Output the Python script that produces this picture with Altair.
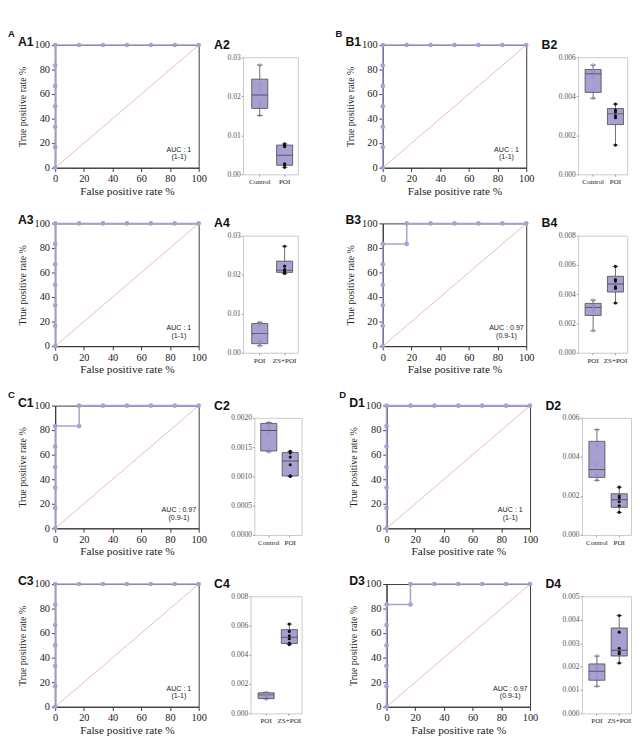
import altair as alt
import numpy as np
import pandas as pd

# ---------------- ROC curves (percent) ----------------
roc_full_fpr = [0, 0, 0, 0, 0, 0, 0, 16.67, 33.33, 50, 66.67, 83.33, 100]
roc_full_tpr = [0, 16.67, 33.33, 50, 66.67, 83.33, 100, 100, 100, 100, 100, 100, 100]
roc_097_fpr = [0, 0, 0, 0, 0, 0, 16.67, 16.67, 33.33, 50, 66.67, 83.33, 100]
roc_097_tpr = [0, 16.67, 33.33, 50, 66.67, 83.33, 83.33, 100, 100, 100, 100, 100, 100]
diag_vals = [0, 100]
roc_ticks = [0, 20, 40, 60, 80, 100]

roc_labels = ["A1", "A3", "B1", "B3", "C1", "C3", "D1", "D3"]
roc_kind = ["full", "full", "full", "097", "097", "full", "full", "097"]
auc_main = ["AUC : 1", "AUC : 1", "AUC : 1", "AUC : 0.97", "AUC : 0.97", "AUC : 1", "AUC : 1", "AUC : 0.97"]
auc_ci = ["(1-1)", "(1-1)", "(1-1)", "(0.9-1)", "(0.9-1)", "(1-1)", "(1-1)", "(0.9-1)"]

# ---------------- box plot values ----------------
A_control = [0.0151, 0.0175, 0.0185, 0.0222, 0.0232, 0.0280]
A_poi = [0.0018, 0.0025, 0.0027, 0.0071, 0.0074, 0.0078]
A_zs = [0.0203, 0.0207, 0.0210, 0.0213, 0.0222, 0.0273]
B_control = [0.0039, 0.0043, 0.0050, 0.0053, 0.0053, 0.0056]
B_poi = [0.0015, 0.0029, 0.0030, 0.0032, 0.0033, 0.0036]
B_zs = [0.0034, 0.0044, 0.0045, 0.0049, 0.0050, 0.0059]
C_control = [0.00142, 0.00144, 0.00173, 0.00184, 0.00190, 0.00192]
C_poi = [0.00100, 0.00101, 0.00120, 0.00133, 0.00140, 0.00143]
C_zs = [0.0047, 0.0048, 0.0051, 0.0053, 0.0056, 0.0061]
D_control = [0.0028, 0.0030, 0.0031, 0.0036, 0.0046, 0.0054]
D_poi = [0.00116, 0.0015, 0.0017, 0.0019, 0.0020, 0.00245]
D_zs = [0.00215, 0.00255, 0.00262, 0.00278, 0.00347, 0.00418]

box_labels = ["A2", "A4", "B2", "B4", "C2", "C4", "D2", "D4"]
box_cats = [["Control", "POI"], ["POI", "ZS+POI"]] * 4
box_vals = [[A_control, A_poi], [A_poi, A_zs],
            [B_control, B_poi], [B_poi, B_zs],
            [C_control, C_poi], [C_poi, C_zs],
            [D_control, D_poi], [D_poi, D_zs]]
box_ticks = [[0, 0.01, 0.02, 0.03], [0, 0.01, 0.02, 0.03],
             [0, 0.002, 0.004, 0.006], [0, 0.002, 0.004, 0.006, 0.008],
             [0, 0.0005, 0.001, 0.0015, 0.002], [0, 0.002, 0.004, 0.006, 0.008],
             [0, 0.002, 0.004, 0.006], [0, 0.001, 0.002, 0.003, 0.004, 0.005]]
box_fmt = [".2f", ".2f", ".3f", ".3f", ".4f", ".3f", ".3f", ".3f"]
box_width = [58, 58, 52, 52, 50, 54, 52, 52]
box_title_dx = [-28, -28, -36, -36, -40, -36, -36, -36]

group_letters = ["A", "B", "C", "D"]

LAV = "#a6a1d3"
BOXF = "#a9a0d2"
DARK = "#333333"
SERIF = "Liberation Serif"
SANS = "Liberation Sans"

RW, RH = 152, 130
BH = RH - 6


def panel_title(label, dx):
    return alt.TitleParams(text=label, anchor="start", frame="bounds", dx=dx,
                           offset=-10, font=SANS, fontSize=13, fontWeight="bold",
                           color="#111111")


def roc_axis(title, tsize, tpad):
    return alt.Axis(values=roc_ticks, title=title, titleFontSize=tsize,
                    titlePadding=tpad, grid=False, domainColor=DARK, tickColor=DARK,
                    tickSize=4, labelFontSize=11, labelColor="#222",
                    titleColor="#222", titleFontWeight="normal", labelPadding=2,
                    labelOverlap=False, labelFlush=False)


def roc_chart(i):
    if roc_kind[i] == "full":
        fpr, tpr = roc_full_fpr, roc_full_tpr
    else:
        fpr, tpr = roc_097_fpr, roc_097_tpr
    df = pd.DataFrame({"fpr": fpr, "tpr": tpr, "ord": list(range(len(fpr)))})
    dd = pd.DataFrame({"fpr": diag_vals, "tpr": diag_vals})
    x = alt.X("fpr:Q", scale=alt.Scale(domain=[0, 100], nice=False),
              axis=roc_axis("False positive rate %", 12, 2))
    y = alt.Y("tpr:Q", scale=alt.Scale(domain=[0, 100], nice=False),
              axis=roc_axis("True positive rate %", 10.5, 7))
    diag = alt.Chart(dd).mark_line(color="#f2a0a0", strokeWidth=0.8).encode(x=x, y=y)
    line = alt.Chart(df).mark_line(color=LAV, strokeWidth=1.6).encode(
        x=x, y=y, order="ord:Q")
    pts = alt.Chart(df).mark_circle(color=LAV, size=24, opacity=1).encode(x=x, y=y)
    tdf = pd.DataFrame({"t": [auc_main[i] + "\n" + auc_ci[i]]})
    txt = alt.Chart(tdf).mark_text(lineBreak="\n", font=SANS, fontSize=7.5,
                                   color="#222", align="center", baseline="top",
                                   lineHeight=8).encode(
        text="t:N", x=alt.value(RW - 21), y=alt.value(RH - 23))
    return alt.layer(diag, line, pts, txt).properties(
        width=RW, height=RH, title=panel_title(roc_labels[i], 0),
        view=alt.ViewBackground(stroke=DARK, strokeWidth=1))


def box_chart(i):
    cats = box_cats[i]
    stats = []
    pts = []
    for k, (c, v) in enumerate(zip(cats, box_vals[i])):
        arr = np.array(v, dtype=float)
        q1, med, q3 = np.percentile(arr, [25, 50, 75], method="weibull")
        stats.append({"cat": c, "lo": arr.min(), "q1": q1, "med": med,
                      "q3": q3, "hi": arr.max()})
        for val in v:
            pts.append({"cat": c, "val": val, "grp": k})
    st = pd.DataFrame(stats)
    pdf = pd.DataFrame(pts)
    ticks = box_ticks[i]
    x = alt.X("cat:N", sort=cats,
              scale=alt.Scale(paddingInner=0, paddingOuter=0.1, align=0.85),
              axis=alt.Axis(title=None, labelAngle=0, domain=False, tickColor="#999",
                            tickSize=2, labelFontSize=7.5, labelColor="#222",
                            labelPadding=2, labelOverlap=False))
    yscale = alt.Scale(domain=[0, ticks[-1]], nice=False)
    yaxis = alt.Axis(values=ticks, format=box_fmt[i], title=None, grid=False,
                     domain=False, tickColor="#999", tickSize=2, labelFontSize=8,
                     labelColor="#555", labelPadding=1, labelOverlap=False,
                     labelFlush=False)

    def Y(f):
        return alt.Y(f, scale=yscale, axis=yaxis)

    whisk = alt.Chart(st).mark_rule(color="#444", strokeWidth=0.8).encode(
        x=x, y=Y("lo:Q"), y2="hi:Q")
    box = alt.Chart(st).mark_bar(size=17, fill=BOXF, stroke="#444",
                                 strokeWidth=0.8).encode(x=x, y=Y("q1:Q"), y2="q3:Q")
    medl = alt.Chart(st).mark_tick(size=17, thickness=1, color="#333").encode(
        x=x, y=Y("med:Q"))
    caplo = alt.Chart(st).mark_tick(size=6, thickness=1, color="#333").encode(
        x=x, y=Y("lo:Q"))
    caphi = alt.Chart(st).mark_tick(size=6, thickness=1, color="#333").encode(
        x=x, y=Y("hi:Q"))
    hollow = alt.Chart(pdf).transform_filter("datum.grp == 0").mark_point(
        filled=False, shape="circle", size=10, color="#8e88bf", strokeWidth=0.8).encode(
        x=x, y=Y("val:Q"))
    solid = alt.Chart(pdf).transform_filter("datum.grp == 1").mark_circle(
        size=11, color="#111", opacity=1).encode(x=x, y=Y("val:Q"))
    plot = alt.layer(whisk, box, medl, caplo, caphi, hollow, solid).properties(
        width=box_width[i], height=BH,
        view=alt.ViewBackground(stroke="#c8c8c8", strokeWidth=1))
    # thin header cell that carries the panel label and lowers the box a little
    header = alt.Chart(pd.DataFrame({"z": [0]})).mark_point(opacity=0).encode(
        x=alt.value(0), y=alt.value(0)).properties(
        width=box_width[i], height=1, title=panel_title(box_labels[i], box_title_dx[i]),
        view=alt.ViewBackground(stroke="transparent"))
    return alt.vconcat(header, plot, spacing=0)


def group(g):
    rows = []
    for sub in range(2):
        i = g * 2 + sub
        rows.append(alt.hconcat(roc_chart(i), box_chart(i), spacing=6))
    return alt.vconcat(*rows, spacing=18).properties(
        title=alt.TitleParams(text=group_letters[g], anchor="start", frame="bounds",
                              dx=-10, offset=-3, font=SANS, fontSize=10,
                              fontWeight="bold", color="#111111"))


top = alt.hconcat(group(0), group(1), spacing=39)
bottom = alt.hconcat(group(2), group(3), spacing=39)

chart = alt.vconcat(top, bottom, spacing=15).properties(padding=0).configure_axis(
    labelFont=SERIF, titleFont=SERIF).configure_title(
    font=SANS).configure_view(stroke="transparent")

chart.save("out.html", embed_options={"renderer": "svg", "actions": False})
